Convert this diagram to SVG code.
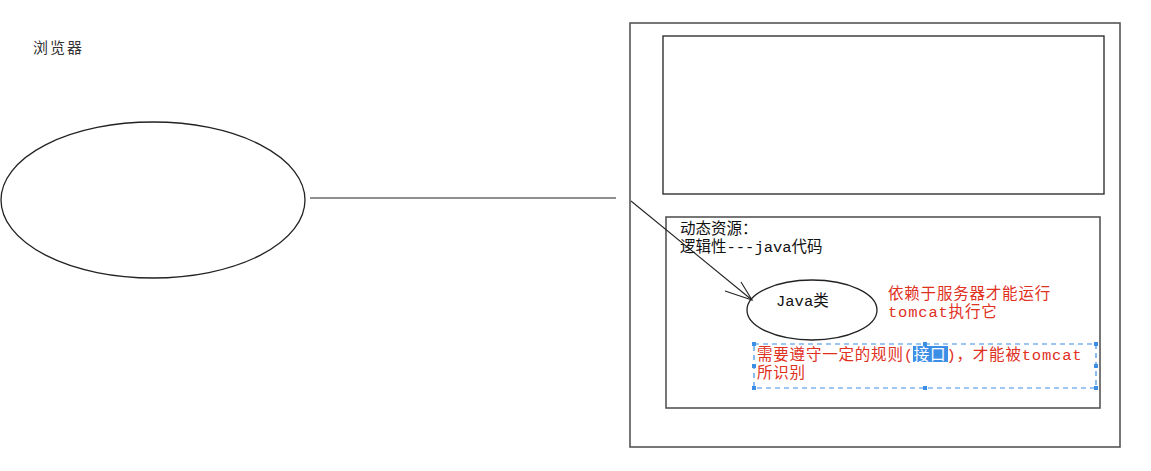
<svg xmlns="http://www.w3.org/2000/svg" width="1151" height="471" viewBox="0 0 1151 471">
<style>
.bg{fill:#ffffff}
.shape{fill:none;stroke:#222;stroke-width:1.3}
.outer{fill:none;stroke:#555;stroke-width:1.6}
.conn{fill:none;stroke:#222;stroke-width:1.1}
.t{font-family:"Liberation Mono","Noto Sans CJK SC",monospace;font-size:15.5px;fill:#111}
.red{font-family:"Liberation Mono","Noto Sans CJK SC",monospace;font-size:15.5px;letter-spacing:0.8px;fill:#e0301e}
.lbl{font-family:"Noto Sans CJK SC","Liberation Sans",sans-serif;font-size:15px;fill:#333}
.sel{fill:none;stroke:#3d8fe6;stroke-width:1.2;stroke-dasharray:5 4}
.h{fill:#3d8fe6}
</style>
<rect class="bg" x="0" y="0" width="1151" height="471"/>
<g id="browser">
  <ellipse class="shape" cx="153" cy="200" rx="152" ry="78"/>
  <text class="lbl" x="33" y="53" letter-spacing="2">浏览器</text>
</g>
<g id="server">
  <rect class="outer" x="630" y="23" width="490" height="424"/>
</g>
<g id="static-box">
  <rect class="shape" x="663" y="36" width="441" height="158"/>
</g>
<g id="dynamic-box">
  <rect class="outer" x="666" y="217" width="434" height="191"/>
  <text class="t" x="680" y="234">动态资源：</text>
  <text class="t" x="680" y="252">逻辑性---java代码</text>
</g>
<g id="java-class">
  <ellipse class="shape" cx="812" cy="310" rx="65" ry="30"/>
  <text class="t" x="776" y="306">Java类</text>
</g>
<g id="note-run">
  <text class="red" x="888" y="299">依赖于服务器才能运行</text>
  <text class="red" x="888" y="317">tomcat执行它</text>
</g>
<g id="note-rule">
  <rect class="sel" x="754" y="344" width="342" height="44"/>
  <rect class="h" x="752" y="342" width="4" height="4"/>
  <rect class="h" x="923" y="342" width="4" height="4"/>
  <rect class="h" x="1094" y="342" width="4" height="4"/>
  <rect class="h" x="752" y="364" width="4" height="4"/>
  <rect class="h" x="1094" y="364" width="4" height="4"/>
  <rect class="h" x="752" y="386" width="4" height="4"/>
  <rect class="h" x="923" y="386" width="4" height="4"/>
  <rect class="h" x="1094" y="386" width="4" height="4"/>
  <rect class="h" x="913" y="346" width="35" height="16"/>
  <text class="red" x="757" y="360">需要遵守一定的规则(<tspan fill="#ffffff">接口</tspan>)，才能被tomcat</text>
  <text class="red" x="757" y="378">所识别</text>
</g>
<g id="connectors">
  <line class="conn" x1="310" y1="198" x2="616" y2="198"/>
  <line class="conn" x1="631" y1="201" x2="752" y2="300"/>
  <polyline class="conn" points="725,291 752,300 741,282"/>
</g>
</svg>
